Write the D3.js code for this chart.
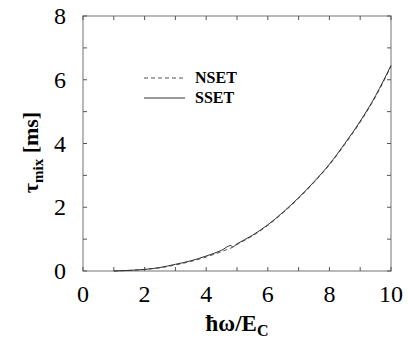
<!DOCTYPE html>
<html>
<head>
<meta charset="utf-8">
<script src="https://cdn.jsdelivr.net/npm/d3@7"></script>
<style>
  body { margin: 0; background: #fff; }
  svg text { font-family: "Liberation Serif", "Times New Roman", serif; }
</style>
</head>
<body>
<div id="chart"></div>
<script>
// data
var xVals = [1.0, 1.5, 2.0, 2.5, 3.0, 3.5, 4.0, 4.5, 4.8, 4.85, 5.0, 5.5, 6.0, 6.5, 7.0, 7.5, 8.0, 8.5, 9.0, 9.5, 10.0];
var ssetVals = [0.0, 0.02, 0.05, 0.11, 0.21, 0.32, 0.47, 0.65, 0.80, 0.76, 0.85, 1.12, 1.45, 1.85, 2.30, 2.80, 3.35, 4.00, 4.70, 5.50, 6.45];
var nsetVals = [0.0, 0.02, 0.05, 0.10, 0.19, 0.30, 0.44, 0.61, 0.72, 0.74, 0.83, 1.10, 1.43, 1.83, 2.28, 2.78, 3.33, 3.97, 4.67, 5.47, 6.42];
var xTicks = [0, 2, 4, 6, 8, 10];
var yTicks = [0, 2, 4, 6, 8];
var seriesNames = ["NSET", "SSET"];

var width = 409, height = 339;
var margins = {top: 16, right: 18, bottom: 68, left: 83};
var chartWidth = width - margins.left - margins.right;
var chartHeight = height - margins.top - margins.bottom;

var svg = d3.select("#chart").append("svg")
    .attr("width", width)
    .attr("height", height);

var cht = svg.append("g")
    .attr("transform", "translate(" + margins.left + "," + margins.top + ")");

var xScale = d3.scaleLinear().domain([0, 10]).range([0, chartWidth]);
var yScale = d3.scaleLinear().domain([0, 8]).range([chartHeight, 0]);

// frame
cht.append("rect")
    .attr("x", 0).attr("y", 0)
    .attr("width", chartWidth).attr("height", chartHeight)
    .style("fill", "none")
    .style("stroke", "#8a8a8a")
    .style("stroke-width", 1.2);

// inward ticks on all four sides
var minorX = d3.range(0, 11, 1);
var minorY = d3.range(0, 9, 1);
var tickLen = 4;
minorX.forEach(function(v) {
    cht.append("line")
        .attr("x1", xScale(v)).attr("x2", xScale(v))
        .attr("y1", chartHeight).attr("y2", chartHeight - tickLen)
        .style("stroke", "#555");
    cht.append("line")
        .attr("x1", xScale(v)).attr("x2", xScale(v))
        .attr("y1", 0).attr("y2", tickLen)
        .style("stroke", "#555");
});
minorY.forEach(function(v) {
    cht.append("line")
        .attr("x1", 0).attr("x2", tickLen)
        .attr("y1", yScale(v)).attr("y2", yScale(v))
        .style("stroke", "#555");
    cht.append("line")
        .attr("x1", chartWidth).attr("x2", chartWidth - tickLen)
        .attr("y1", yScale(v)).attr("y2", yScale(v))
        .style("stroke", "#555");
});

// tick labels
cht.selectAll(".xlab")
    .data(xTicks)
    .enter().append("text")
    .attr("class", "xlab")
    .attr("x", function(d) { return xScale(d); })
    .attr("y", chartHeight + 31)
    .attr("text-anchor", "middle")
    .style("font-size", "24px")
    .text(function(d) { return d; });

cht.selectAll(".ylab")
    .data(yTicks)
    .enter().append("text")
    .attr("class", "ylab")
    .attr("x", -17)
    .attr("y", function(d) { return yScale(d) + 8; })
    .attr("text-anchor", "end")
    .style("font-size", "24px")
    .text(function(d) { return d; });

// axis titles
var xt = svg.append("text")
    .attr("x", margins.left + chartWidth / 2)
    .attr("y", 331)
    .attr("text-anchor", "middle")
    .style("font-size", "23px")
    .style("font-weight", "bold");
xt.append("tspan").text("\u0127\u03c9/E");
xt.append("tspan").attr("dy", 5).style("font-size", "16px").text("C");

var yt = svg.append("text")
    .attr("transform", "translate(38," + (margins.top + chartHeight / 2 + 9) + ") rotate(-90)")
    .attr("text-anchor", "middle")
    .style("font-size", "22px")
    .style("font-weight", "bold");
yt.append("tspan").text("\u03c4");
yt.append("tspan").attr("dy", 5).style("font-size", "15px").text("mix");
yt.append("tspan").attr("dy", -5).text(" [ms]");

// curves
var line = d3.line()
    .x(function(d) { return xScale(d.x); })
    .y(function(d) { return yScale(d.y); })
    .curve(d3.curveMonotoneX);

var nsetData = xVals.map(function(x, i) { return {x: x, y: nsetVals[i]}; });
var ssetData = xVals.map(function(x, i) { return {x: x, y: ssetVals[i]}; });

cht.append("path")
    .datum(nsetData)
    .attr("d", line)
    .style("fill", "none")
    .style("stroke", "#555")
    .style("stroke-width", 1)
    .style("stroke-dasharray", "4,3");

cht.append("path")
    .datum(ssetData)
    .attr("d", line)
    .style("fill", "none")
    .style("stroke", "#333")
    .style("stroke-width", 1);

// legend
var legend = svg.append("g").attr("transform", "translate(144,0)");
seriesNames.forEach(function(name, i) {
    var ly = 78 + i * 20;
    legend.append("line")
        .attr("x1", 0).attr("x2", 41)
        .attr("y1", ly).attr("y2", ly)
        .style("stroke", i === 0 ? "#555" : "#333")
        .style("stroke-width", 1)
        .style("stroke-dasharray", i === 0 ? "4,3" : null);
    legend.append("text")
        .attr("x", 51)
        .attr("y", ly + 5)
        .style("font-size", "16px")
        .style("font-weight", "bold")
        .text(name);
});
</script>
</body>
</html>
